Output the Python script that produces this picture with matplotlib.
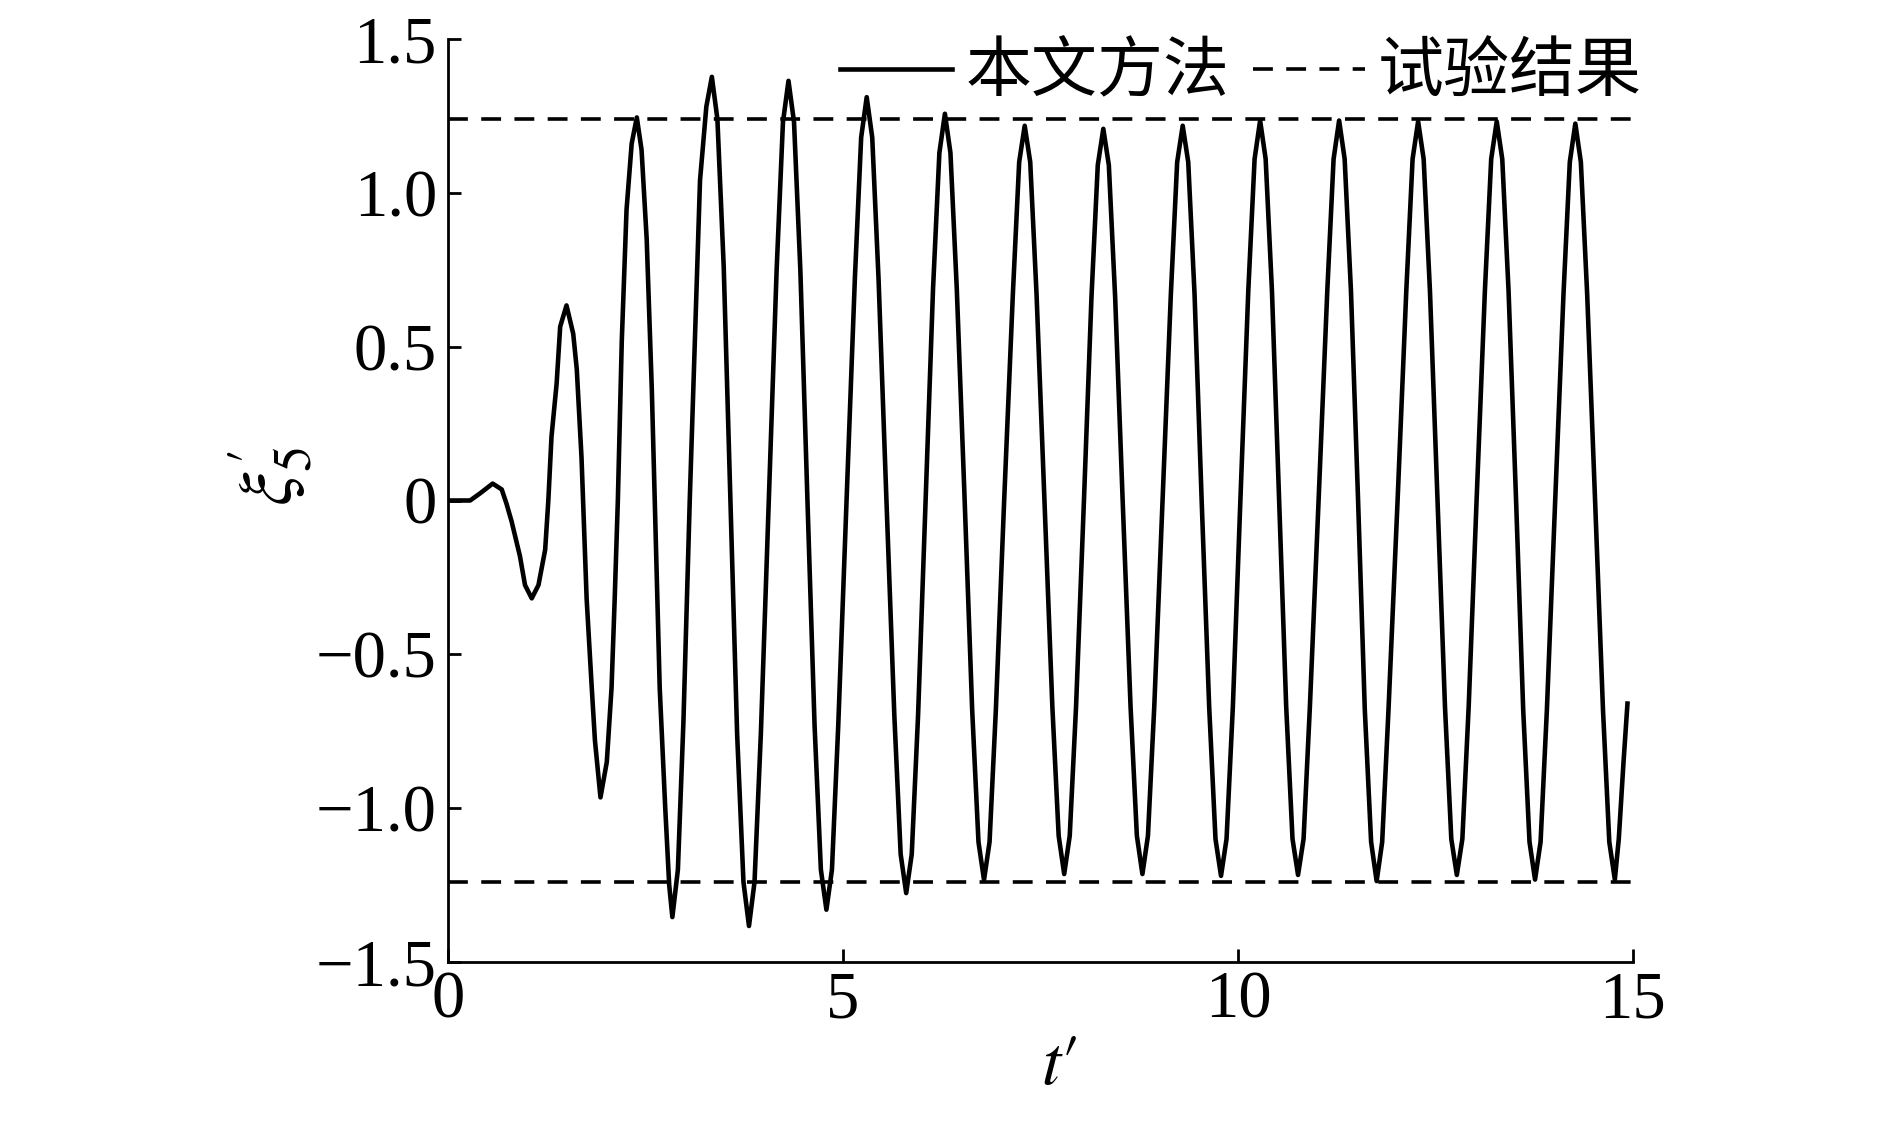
import numpy as np
import matplotlib.pyplot as plt

plt.rcParams['font.family'] = ['Liberation Serif', 'Noto Sans CJK SC']
plt.rcParams['mathtext.fontset'] = 'stix'

# curve: t' and xi_5'
t_vals = [0.0, 0.28, 0.41, 0.565, 0.68, 0.74, 0.805, 0.91, 0.975, 1.06,
          1.145, 1.23, 1.27, 1.31, 1.375, 1.42, 1.50, 1.585, 1.63, 1.69,
          1.71, 1.755, 1.82, 1.86, 1.93, 2.01, 2.07, 2.11, 2.15, 2.20,
          2.26, 2.325, 2.39, 2.45, 2.515, 2.58, 2.62, 2.68, 2.75, 2.80,
          2.84, 2.91, 2.98, 3.06, 3.13, 3.19, 3.27, 3.34,
          3.41, 3.49, 3.575, 3.66, 3.74, 3.81,
          3.88, 3.96, 4.06, 4.16, 4.24, 4.31,
          4.38, 4.46, 4.55, 4.64, 4.72, 4.79,
          4.86, 4.94, 5.045, 5.15, 5.23, 5.30,
          5.37, 5.45, 5.55, 5.65, 5.73, 5.80,
          5.87, 5.95, 6.045, 6.14, 6.22, 6.29,
          6.36, 6.44, 6.54, 6.635, 6.715, 6.785,
          6.855, 6.935, 7.04, 7.15, 7.23, 7.30,
          7.37, 7.45, 7.55, 7.65, 7.73, 7.80,
          7.87, 7.95, 8.05, 8.145, 8.225, 8.295,
          8.365, 8.445, 8.54, 8.64, 8.72, 8.79,
          8.86, 8.94, 9.045, 9.15, 9.23, 9.30,
          9.37, 9.45, 9.54, 9.635, 9.715, 9.785,
          9.855, 9.935, 10.03, 10.13, 10.21, 10.28,
          10.35, 10.43, 10.52, 10.61, 10.69, 10.76,
          10.83, 10.91, 11.02, 11.13, 11.21, 11.28,
          11.35, 11.43, 11.52, 11.605, 11.685, 11.755,
          11.825, 11.905, 12.02, 12.13, 12.21, 12.28,
          12.35, 12.43, 12.525, 12.62, 12.70, 12.77,
          12.84, 12.92, 13.02, 13.125, 13.205, 13.275,
          13.345, 13.425, 13.52, 13.61, 13.69, 13.76,
          13.83, 13.91, 14.015, 14.12, 14.20, 14.27,
          14.34, 14.42, 14.52, 14.62, 14.70, 14.77,
          14.82, 14.88, 14.93]
xi_vals = [0.0, 0.0, 0.024, 0.055, 0.036, -0.01, -0.068, -0.18, -0.275, -0.318,
           -0.275, -0.16, 0.0, 0.207, 0.38, 0.565, 0.634, 0.542, 0.427, 0.14,
           0.0, -0.32, -0.61, -0.78, -0.965, -0.85, -0.61, -0.32, 0.0, 0.52,
           0.945, 1.16, 1.245, 1.14, 0.85, 0.36, -0.03, -0.61, -1.0, -1.25,
           -1.354, -1.2, -0.72, 0.0, 0.56, 1.04, 1.28, 1.377,
           1.24, 0.76, 0.0, -0.76, -1.24, -1.383,
           -1.24, -0.76, 0.0, 0.75, 1.23, 1.364,
           1.23, 0.75, 0.0, -0.73, -1.2, -1.33,
           -1.2, -0.73, 0.0, 0.72, 1.18, 1.311,
           1.18, 0.72, 0.0, -0.7, -1.15, -1.276,
           -1.15, -0.7, 0.0, 0.69, 1.13, 1.257,
           1.13, 0.69, 0.0, -0.68, -1.11, -1.233,
           -1.11, -0.68, 0.0, 0.67, 1.1, 1.218,
           1.1, 0.67, 0.0, -0.67, -1.09, -1.214,
           -1.09, -0.67, 0.0, 0.66, 1.09, 1.208,
           1.09, 0.66, 0.0, -0.67, -1.09, -1.214,
           -1.09, -0.67, 0.0, 0.67, 1.1, 1.218,
           1.1, 0.67, 0.0, -0.67, -1.1, -1.22,
           -1.1, -0.67, 0.0, 0.68, 1.11, 1.235,
           1.11, 0.68, 0.0, -0.67, -1.1, -1.217,
           -1.1, -0.67, 0.0, 0.68, 1.11, 1.235,
           1.11, 0.68, 0.0, -0.68, -1.11, -1.237,
           -1.11, -0.68, 0.0, 0.68, 1.11, 1.232,
           1.11, 0.68, 0.0, -0.67, -1.1, -1.217,
           -1.1, -0.67, 0.0, 0.68, 1.11, 1.232,
           1.11, 0.68, 0.0, -0.68, -1.11, -1.232,
           -1.11, -0.68, 0.0, 0.67, 1.1, 1.225,
           1.1, 0.67, 0.0, -0.68, -1.11, -1.232,
           -1.1, -0.85, -0.66]

# experiment amplitude (dashed lines)
exp_amp = 1.24

xticks = [0, 5, 10, 15]
xtick_labels = ['0', '5', '10', '15']
yticks = [-1.5, -1.0, -0.5, 0, 0.5, 1.0, 1.5]
ytick_labels = ['\u22121.5', '\u22121.0', '\u22120.5', '0', '0.5', '1.0', '1.5']

fig = plt.figure(figsize=(18.9, 11.35), dpi=100)
ax = fig.add_axes([448/1890, 1 - 962/1135, (1633 - 448)/1890, (962 - 39)/1135])

ax.plot(t_vals, xi_vals, color='black', lw=3.3, label='本文方法')
ax.axhline(exp_amp, color='black', lw=2.6, ls=(0, (5.5, 3.7)), label='试验结果')
ax.axhline(-exp_amp, color='black', lw=2.6, ls=(0, (5.5, 3.7)))

ax.set_xlim(0, 15)
ax.set_ylim(-1.5, 1.5)
ax.set_xticks(xticks)
ax.set_xticklabels(xtick_labels)
ax.set_yticks(yticks)
ax.set_yticklabels(ytick_labels)
ax.tick_params(direction='in', length=9.5, width=2, labelsize=48, pad=8)
ax.tick_params(axis='x', pad=6)

for s in ['top', 'right']:
    ax.spines[s].set_visible(False)
for s in ['left', 'bottom']:
    ax.spines[s].set_linewidth(2)

ax.set_xlabel(r"$t\prime$", fontsize=50)
ax.xaxis.set_label_coords(0.516, -0.08)
ax.set_ylabel(r"$\xi_5^{\prime}$", fontsize=54)
ax.yaxis.set_label_coords(-0.112, 0.526)

ax.legend(loc='center right', bbox_to_anchor=(1642/1890, 1 - 75/1135),
          bbox_transform=fig.transFigure, ncol=2, frameon=False,
          fontsize=47.5, handlelength=1.7, handletextpad=0.2,
          columnspacing=0.35, borderpad=0, borderaxespad=0)

fig.savefig('out.png', dpi=100)
